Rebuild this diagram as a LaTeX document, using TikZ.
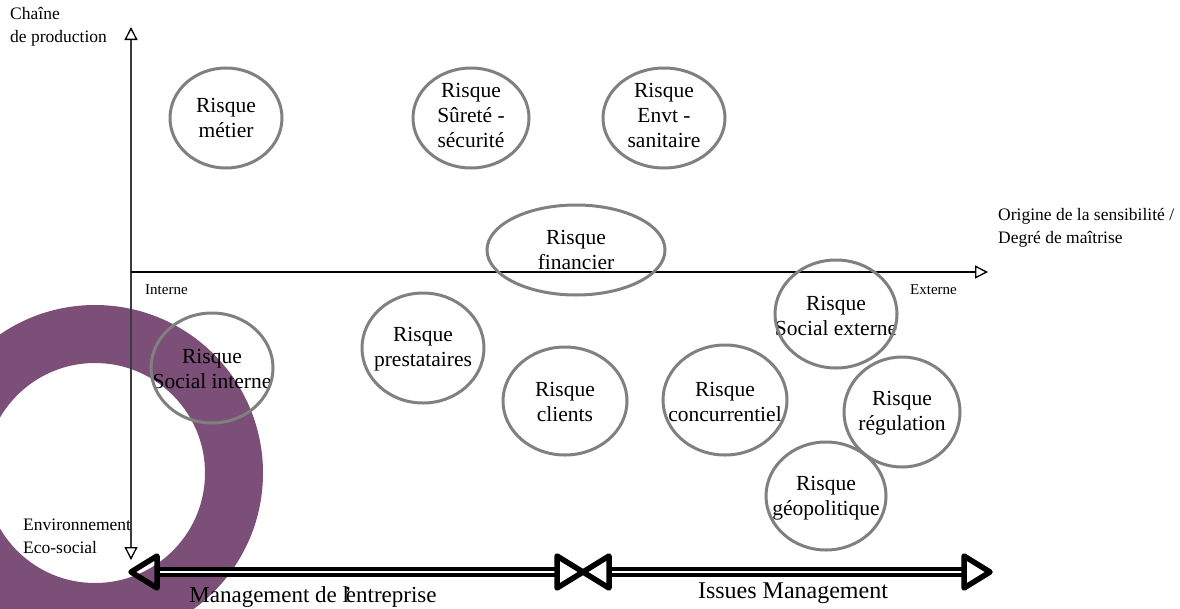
\documentclass[tikz,border=0pt]{standalone}
\usepackage{fontspec}
\setmainfont{Liberation Serif}
\usetikzlibrary{arrows.meta,calc}
\definecolor{ringpurple}{RGB}{123,79,119}
\definecolor{ellgrey}{RGB}{128,128,128}
\definecolor{axisgrey}{RGB}{60,60,60}
\tikzset{axtip/.tip={Triangle[open,length=13pt,width=13pt,line width=1.3pt,color=black,fill=white]}}
\begin{document}
\begin{tikzpicture}[x=1pt,y=-1pt,
  risk/.style={align=center,font=\fontsize{21.5}{25}\selectfont,inner sep=0pt},
  riskring/.style={draw=ellgrey,line width=3pt},
  axlbl/.style={align=left,font=\fontsize{17.5}{23}\selectfont,inner sep=0pt},
  smalllbl/.style={font=\fontsize{15}{17}\selectfont,inner sep=0pt},
  biglbl/.style={font=\fontsize{24}{28}\selectfont,inner sep=0pt},
  headtri/.style={draw=black,line width=5.5pt,line join=round},
  shaft/.style={draw=black,line width=9.5pt},
  shaftgap/.style={draw=white,line width=1.3pt}
]
\useasboundingbox[fill=white] (0,0) rectangle (1180,608);

% purple ring
\draw[ringpurple,line width=58pt] (95,473) circle[radius=139pt];

% axes
\coordinate (vtop) at (131,27);
\coordinate (vbot) at (131,560);
\coordinate (orig) at (131,272);
\coordinate (hend) at (988,272);
\draw[axisgrey,line width=2.5pt,axtip-axtip] (vbot) -- (vtop);
\draw[black,line width=2pt,-axtip] (orig) -- (hend);

% axis labels
\node[axlbl,anchor=north west] (chaine) at (10,7) {Chaîne\\de production};
\node[axlbl,anchor=north west] (origine) at (998,208) {Origine de la sensibilité /\\Degré de maîtrise};
\node[smalllbl,anchor=west] (interne) at (145,290) {Interne};
\node[smalllbl,anchor=west] (externe) at (910,290) {Externe};
\node[axlbl,anchor=north west] (envir) at (23,519) {Environnement\\Eco-social};

% risks
\node[risk] (metier) at (226,118) {Risque\\métier};
\draw[riskring] (metier.center) ellipse[x radius=56pt,y radius=50pt];
\node[risk] (surete) at (471,115) {Risque\\Sûreté -\\sécurité};
\draw[riskring] (471,118) ellipse[x radius=58pt,y radius=50pt];
\node[risk] (envt) at (664,115) {Risque\\Envt -\\sanitaire};
\draw[riskring] (664,118) ellipse[x radius=61pt,y radius=50pt];
\node[risk] (financier) at (576,250) {Risque\\financier};
\draw[riskring] (financier.center) ellipse[x radius=89pt,y radius=45pt];
\node[risk] (prest) at (423,349) {Risque\\prestataires};
\draw[riskring] (423,348) ellipse[x radius=61pt,y radius=55pt];
\node[risk] (socint) at (212,369) {Risque\\Social interne};
\draw[riskring] (212,368) ellipse[x radius=61pt,y radius=55pt];
\node[risk] (clients) at (565,402) {Risque\\clients};
\draw[riskring] (565,401) ellipse[x radius=62pt,y radius=54pt];
\node[risk] (concur) at (725,402) {Risque\\concurrentiel};
\draw[riskring] (725,400) ellipse[x radius=62pt,y radius=55pt];
\node[risk] (socext) at (836,316) {Risque\\Social externe};
\draw[riskring] (836,314) ellipse[x radius=61pt,y radius=54pt];
\node[risk] (regul) at (902,413) {Risque\\régulation};
\draw[riskring] (902,412) ellipse[x radius=58pt,y radius=55pt];
\node[risk] (geo) at (826,498) {Risque\\géopolitique};
\draw[riskring] (826,496) ellipse[x radius=60pt,y radius=54pt];

% bottom double arrows
\coordinate (bl) at (131,572);
\coordinate (bm) at (583,572);
\coordinate (br) at (990,572);
\draw[shaft] ($(bl)+(26,0)$) -- ($(bm)+(-26,0)$);
\draw[shaftgap] ($(bl)+(26,0)$) -- ($(bm)+(-26,0)$);
\draw[shaft] ($(bm)+(26,0)$) -- ($(br)+(-26,0)$);
\draw[shaftgap] ($(bm)+(26,0)$) -- ($(br)+(-26,0)$);
\draw[headtri] (bl) -- ($(bl)+(26,-16)$) -- ($(bl)+(26,16)$) -- cycle;
\draw[headtri] (bm) -- ($(bm)+(-26,-16)$) -- ($(bm)+(-26,16)$) -- cycle;
\draw[headtri] (bm) -- ($(bm)+(26,-16)$) -- ($(bm)+(26,16)$) -- cycle;
\draw[headtri] (br) -- ($(br)+(-26,-16)$) -- ($(br)+(-26,16)$) -- cycle;

\node[biglbl,font=\fontsize{23}{28}\selectfont] (mgmt) at (313,597) {Management de l\kern-0.22em’\kern-0.25em entreprise};
\node[biglbl] (issues) at (793,593) {Issues Management};
\end{tikzpicture}
\end{document}
